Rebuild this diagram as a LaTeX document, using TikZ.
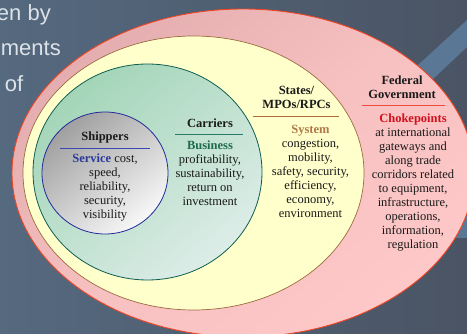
\documentclass[tikz,border=0pt]{standalone}
\usepackage{fontspec}
\setmainfont{Liberation Serif}
\newfontfamily\slidefont{Liberation Sans}
\definecolor{bgL}{HTML}{55697F}
\definecolor{bgR}{HTML}{4A5464}
\definecolor{band}{HTML}{5A7896}
\definecolor{fedEdge}{HTML}{F04422}
\definecolor{fedA}{HTML}{E4AEB0}
\definecolor{fedB}{HTML}{FFC8C8}
\definecolor{stEdge}{HTML}{9C6A40}
\definecolor{stFill}{HTML}{FFFFCC}
\definecolor{carEdge}{HTML}{0E5E50}
\definecolor{carA}{HTML}{A3D5B8}
\definecolor{carB}{HTML}{DDEDE8}
\definecolor{shEdge}{HTML}{22299A}
\definecolor{shA}{HTML}{A0A0A0}
\definecolor{shB}{HTML}{F8F8F8}
\definecolor{servblue}{HTML}{2A3A9C}
\definecolor{busgreen}{HTML}{1D6B50}
\definecolor{systan}{HTML}{B07848}
\definecolor{chokered}{HTML}{D0101E}
\definecolor{txt}{HTML}{1A1A1A}
\definecolor{slidetxt}{HTML}{DDE2E8}
\definecolor{shLine}{HTML}{3A48B0}
\definecolor{carLine}{HTML}{2A7A68}
\definecolor{stLine}{HTML}{B06A3A}
\definecolor{fedLine}{HTML}{F04A3A}
\begin{document}
\begin{tikzpicture}[x=1pt,y=-1pt,
  lbl/.style={inner sep=0pt, outer sep=0pt, align=center, text=txt, font=\fontsize{12.5}{14}\selectfont, anchor=north},
  hd/.style={lbl, font=\fontsize{12.5}{14}\selectfont\bfseries},
  uline/.style={line width=0.9pt},
  slide/.style={inner sep=0pt, anchor=base east, text=slidetxt, font=\slidefont\fontsize{22}{26}\selectfont}]
\useasboundingbox (0,0) rectangle (467,334);
\shade[left color=bgL, right color=bgR] (0,0) rectangle (467,334);
\fill[band] (380,100) -- (467,20) -- (467,47) -- (395,115) -- cycle;
\fill[band] (440,195) rectangle (467,238);
\node[slide] (t1) at (51,21) {en by};
\node[slide] (t2) at (61,56) {ments};
\node[slide] (t3) at (23.5,92) {of};
% ellipses
\path[draw=fedEdge, line width=0.9pt, top color=fedA, bottom color=fedB, middle color=fedB!70!fedA, shading angle=40]
  (243,173) ellipse [x radius=231pt, y radius=164pt];
\path[draw=stEdge, line width=0.7pt, fill=stFill] (193.5,173) ellipse [x radius=170.5pt, y radius=137pt];
\path[draw=carEdge, line width=0.8pt, top color=carA, bottom color=carB, shading angle=40]
  (147.5,172) ellipse [x radius=114.5pt, y radius=108pt];
\path[draw=shEdge, line width=0.8pt, top color=shA, bottom color=shB, shading angle=40]
  (105,173) ellipse [x radius=63pt, y radius=61pt];
% Shippers
\node[hd] (shH) at (105,131.2) {\strut Shippers};
\draw[uline, shLine] (60,148.3) -- (150,148.3);
\node[lbl] (shB) at (105,152.9) {\strut\textcolor{servblue}{\textbf{Service}} cost,\\speed,\\reliability,\\security,\\visibility};
% Carriers
\node[hd] (caH) at (210,117.5) {\strut Carriers};
\draw[uline, carLine] (175,134) -- (243,134);
\node[lbl] (caB) at (210,139.7) {\strut\textcolor{busgreen}{\textbf{Business}}\\profitability,\\sustainability,\\return on\\investment};
% States
\node[hd] (stH) at (296.5,85.2) {\strut States/\\MPOs/RPCs};
\draw[uline, stLine] (253,116) -- (339,116);
\node[lbl] (stB) at (310.5,123.7) {\strut\textcolor{systan}{\textbf{System}}\\congestion,\\mobility,\\safety, security,\\efficiency,\\economy,\\environment};
% Federal
\node[hd] (feH) at (402,75.2) {\strut Federal\\Government};
\draw[uline, fedLine] (362,105) -- (445,105);
\node[lbl] (feB) at (413,112.7) {\strut\textcolor{chokered}{\textbf{Chokepoints}}\\at international\\gateways and\\along trade\\corridors related\\to equipment,\\infrastructure,\\operations,\\information,\\regulation};
\end{tikzpicture}
\end{document}
